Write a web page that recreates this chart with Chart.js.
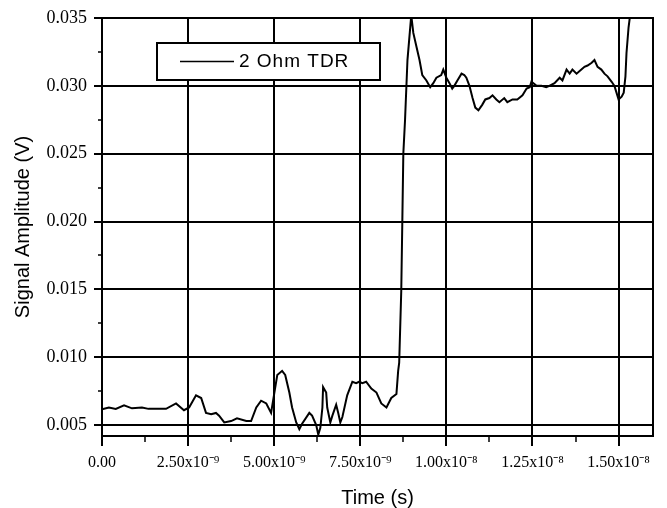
<!DOCTYPE html>
<html>
<head>
<meta charset="utf-8">
<script src="https://cdn.jsdelivr.net/npm/chart.js@4.4.1/dist/chart.umd.min.js"></script>
<style>
  html, body { margin: 0; padding: 0; background: #fff; }
  #wrap { width: 667px; height: 508px; }
</style>
</head>
<body>
<div id="wrap"><canvas id="c" width="667" height="508"></canvas></div>
<script>
// ---- data (time in ns, amplitude in V) ----
const timeNs = [
  0, 0.2, 0.4, 0.64, 0.87, 1.16, 1.35, 1.57, 1.86, 2.15, 2.38, 2.53, 2.73, 2.88,
  3.02, 3.17, 3.31, 3.40, 3.55, 3.75, 3.92, 4.19, 4.33, 4.48, 4.62, 4.77, 4.91,
  5.0, 5.09, 5.23, 5.32, 5.44, 5.52, 5.64, 5.73, 5.81, 6.02, 6.10, 6.22, 6.28,
  6.34, 6.40, 6.42, 6.51, 6.54, 6.63, 6.69, 6.80, 6.86, 6.92, 6.98, 7.12, 7.27,
  7.38, 7.47, 7.56, 7.67, 7.82, 7.97, 8.11, 8.26, 8.40, 8.55, 8.60, 8.63, 8.69,
  8.72, 8.75, 8.80, 8.87, 8.98, 9.04, 9.13, 9.22, 9.30, 9.42, 9.53, 9.62, 9.71,
  9.85, 9.91, 10.0, 10.09, 10.17, 10.23, 10.32, 10.44, 10.52, 10.58, 10.67, 10.76,
  10.84, 10.93, 11.04, 11.13, 11.25, 11.34, 11.45, 11.54, 11.68, 11.77, 11.92,
  12.06, 12.21, 12.33, 12.42, 12.47, 12.62, 12.76, 12.90, 12.99, 13.14, 13.29,
  13.37, 13.49, 13.58, 13.66, 13.78, 13.92, 14.01, 14.10, 14.22, 14.30, 14.39,
  14.50, 14.59, 14.68, 14.80, 14.88, 14.94, 15.0, 15.09, 15.15, 15.20, 15.23,
  15.29, 15.35
];
const amplitudeV = [
  0.00617, 0.0063, 0.0062, 0.00646, 0.00624, 0.0063, 0.0062, 0.0062, 0.0062, 0.0066, 0.0061, 0.0063, 0.0072, 0.0070,
  0.0059, 0.0058, 0.0059, 0.0057, 0.0052, 0.0053, 0.0055, 0.0053, 0.0053, 0.0063, 0.0068, 0.0066, 0.0059,
  0.0073, 0.0087, 0.0090, 0.0087, 0.0074, 0.0063, 0.0052, 0.0047, 0.0051, 0.0059, 0.0057, 0.0050, 0.0043,
  0.0048, 0.0063, 0.0078, 0.0074, 0.0063, 0.0052, 0.0057, 0.0065, 0.0059, 0.0052, 0.0056, 0.0072, 0.0082,
  0.0081, 0.0082, 0.0081, 0.0082, 0.0077, 0.0074, 0.0066, 0.0063, 0.0070, 0.0073, 0.0090, 0.0096, 0.0149,
  0.0199, 0.0250, 0.0275, 0.0319, 0.0352, 0.0339, 0.0329, 0.0319, 0.0308, 0.0304, 0.0299, 0.0302, 0.0306,
  0.0308, 0.0312, 0.0306, 0.0302, 0.0298, 0.0300, 0.0304, 0.0309, 0.0308, 0.0306, 0.0300, 0.0291,
  0.0284, 0.0282, 0.0286, 0.0290, 0.0291, 0.0293, 0.0290, 0.0288, 0.0291, 0.0288, 0.0290,
  0.0290, 0.0293, 0.0298, 0.0299, 0.0303, 0.0300, 0.0300, 0.0299, 0.0300, 0.0302, 0.0306,
  0.0304, 0.0312, 0.0309, 0.0312, 0.0309, 0.0312, 0.0314, 0.0315, 0.0317, 0.0319, 0.0314,
  0.0312, 0.0309, 0.0307, 0.0303, 0.0300, 0.0295, 0.0290, 0.0292, 0.0295, 0.0307, 0.0324,
  0.0343, 0.0355
];
const seriesLabel = '2 Ohm TDR';

const xTickValues = [0, 2.5, 5, 7.5, 10, 12.5, 15];
const xTickLabels = ['0.00', '2.50x10\u207B\u2079', '5.00x10\u207B\u2079', '7.50x10\u207B\u2079',
                     '1.00x10\u207B\u2078', '1.25x10\u207B\u2078', '1.50x10\u207B\u2078'];
const xMinorTicks = [1.25, 3.75, 6.25, 8.75, 11.25, 13.75];
const xMin = 0, xMax = 16;

const yTickValues = [0.005, 0.010, 0.015, 0.020, 0.025, 0.030, 0.035];
const yTickLabels = ['0.005', '0.010', '0.015', '0.020', '0.025', '0.030', '0.035'];
const yMinorTicks = [0.0075, 0.0125, 0.0175, 0.0225, 0.0275, 0.0325];
const yMin = 0.0042, yMax = 0.035;

const points = timeNs.map((t, i) => ({ x: t, y: amplitudeV[i] }));

// ---- plugins ----
const framePlugin = {
  id: 'frame',
  afterDatasetsDraw(chart) {
    const { ctx, chartArea: a, scales } = chart;
    ctx.save();
    ctx.strokeStyle = '#000';
    ctx.lineWidth = 2;
    ctx.strokeRect(a.left, a.top, a.right - a.left, a.bottom - a.top);
    // minor ticks
    ctx.lineWidth = 1.5;
    ctx.beginPath();
    xMinorTicks.forEach(v => {
      const px = Math.round(scales.x.getPixelForValue(v));
      ctx.moveTo(px, a.bottom);
      ctx.lineTo(px, a.bottom + 6);
    });
    yMinorTicks.forEach(v => {
      const py = Math.round(scales.y.getPixelForValue(v));
      ctx.moveTo(a.left, py);
      ctx.lineTo(a.left - 4, py);
    });
    ctx.stroke();
    // legend box
    const bx = a.left + 55, by = a.top + 25, bw = 223, bh = 37;
    ctx.fillStyle = '#fff';
    ctx.fillRect(bx, by, bw, bh);
    ctx.lineWidth = 2;
    ctx.strokeRect(bx, by, bw, bh);
    ctx.lineWidth = 1.5;
    ctx.beginPath();
    ctx.moveTo(bx + 23, by + 18.5);
    ctx.lineTo(bx + 77, by + 18.5);
    ctx.stroke();
    ctx.fillStyle = '#000';
    ctx.font = '19px "Liberation Sans", Arial, sans-serif';
    try { ctx.letterSpacing = '1px'; } catch (e) {}
    ctx.textBaseline = 'middle';
    ctx.textAlign = 'left';
    ctx.fillText(seriesLabel, bx + 82, by + 19);
    ctx.restore();
  }
};

new Chart(document.getElementById('c'), {
  type: 'line',
  data: {
    datasets: [{
      label: seriesLabel,
      data: points,
      borderColor: '#000',
      borderWidth: 2,
      pointRadius: 0,
      tension: 0,
      fill: false
    }]
  },
  options: {
    responsive: false,
    animation: false,
    devicePixelRatio: 1,
    layout: { padding: { left: 0, top: 18, right: 14, bottom: 0 } },
    plugins: { legend: { display: false }, tooltip: { enabled: false } },
    scales: {
      x: {
        type: 'linear',
        min: xMin, max: xMax,
        afterBuildTicks: s => { s.ticks = xTickValues.map(v => ({ value: v })); },
        afterFit: s => { s.height = 72; },
        ticks: {
          autoSkip: false, maxRotation: 0,
          color: '#000',
          padding: 7,
          font: { family: '"Liberation Serif", "Times New Roman", serif', size: 16 },
          callback: (v, i) => xTickLabels[i]
        },
        grid: { color: '#000', lineWidth: 2, tickLength: 10 },
        border: { color: '#000', width: 2 },
        title: {
          display: true, text: 'Time (s)', color: '#000',
          font: { family: '"Liberation Sans", Arial, sans-serif', size: 20, lineHeight: 1.0 },
          padding: { top: 0, bottom: 0 }
        }
      },
      y: {
        type: 'linear',
        min: yMin, max: yMax,
        afterBuildTicks: s => { s.ticks = yTickValues.map(v => ({ value: v })); },
        afterFit: s => { s.width = 102; },
        ticks: {
          color: '#000',
          padding: 7,
          font: { family: '"Liberation Serif", "Times New Roman", serif', size: 18 },
          callback: (v, i) => yTickLabels[i]
        },
        grid: { color: '#000', lineWidth: 2, tickLength: 8 },
        border: { color: '#000', width: 2 },
        title: {
          display: true, text: 'Signal Amplitude (V)', color: '#000',
          font: { family: '"Liberation Sans", Arial, sans-serif', size: 20 },
          padding: { top: 11, bottom: 0 }
        }
      }
    }
  },
  plugins: [framePlugin]
});
</script>
</body>
</html>
